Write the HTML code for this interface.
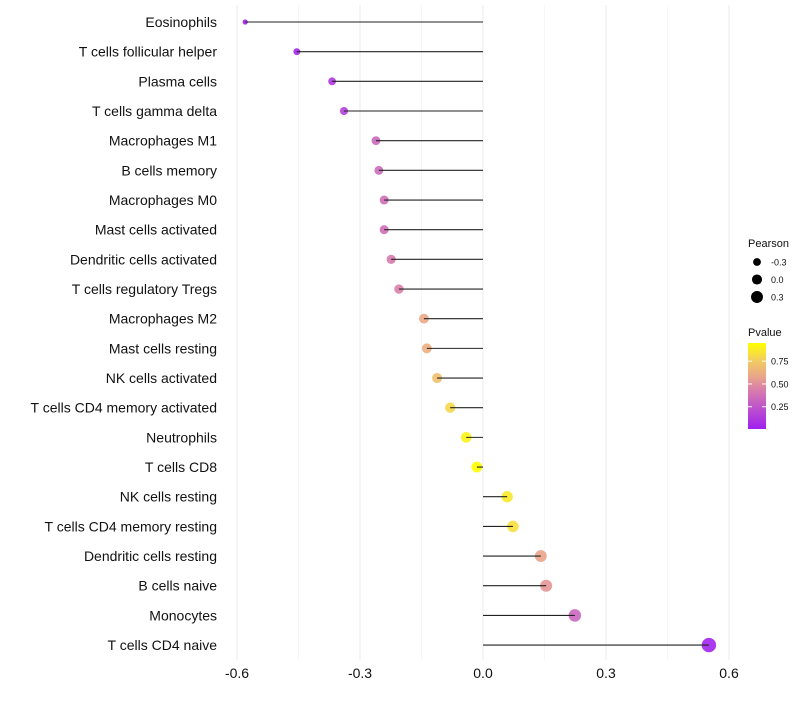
<!DOCTYPE html>
<html><head><meta charset="utf-8"><style>
body{margin:0;background:#fff;}
svg text{font-family:"Liberation Sans",Arial,sans-serif;}
</style></head><body>
<svg id="chart" width="800" height="700" xmlns="http://www.w3.org/2000/svg">
<g id="grid"></g>
<g id="marks"></g>
<g id="ylabels"></g>
<g id="xlabels"></g>
<g id="legend"></g>
</svg>
<script>
const categories=["Eosinophils","T cells follicular helper","Plasma cells","T cells gamma delta","Macrophages M1","B cells memory","Macrophages M0","Mast cells activated","Dendritic cells activated","T cells regulatory  Tregs ","Macrophages M2","Mast cells resting","NK cells activated","T cells CD4 memory activated","Neutrophils","T cells CD8","NK cells resting","T cells CD4 memory resting","Dendritic cells resting","B cells naive","Monocytes","T cells CD4 naive"];
const pearson=[-0.58,-0.454,-0.368,-0.339,-0.261,-0.254,-0.241,-0.241,-0.224,-0.205,-0.144,-0.137,-0.112,-0.080,-0.041,-0.015,0.059,0.073,0.141,0.154,0.224,0.551];
const pvalue=[0.005,0.03,0.12,0.15,0.33,0.35,0.37,0.37,0.42,0.45,0.6,0.62,0.7,0.8,0.9,0.95,0.87,0.83,0.58,0.53,0.33,0.02];
const xTicks=[-0.6,-0.3,0.0,0.3,0.6];
const xTickLabels=["-0.6","-0.3","0.0","0.3","0.6"];
const minorTicks=[-0.45,-0.15,0.15,0.45];
const sizeLegend=[-0.3,0.0,0.3];
const colorTicks=[0.25,0.5,0.75];

const NS="http://www.w3.org/2000/svg";
const X=v=>483+v*410;
const Y=i=>22+i*29.67;
const R=p=>Math.sqrt(Math.max(2.5,30+40*p));
const pMin=0.005,pMax=0.95;
function col(p){
  const t=Math.max(0,Math.min(1,(p-pMin)/(pMax-pMin)));
  const stops=[[0,[160,32,240]],[0.33,[200,100,192]],[0.47,[218,128,168]],[0.62,[234,168,136]],[0.8,[242,205,96]],[1,[255,255,0]]];
  for(let k=1;k<stops.length;k++){if(t<=stops[k][0]){const a=stops[k-1],b=stops[k];const u=(t-a[0])/(b[0]-a[0]);
    return "rgb("+a[1].map((c,j)=>Math.round(c+(b[1][j]-c)*u)).join(",")+")";}}
  return "rgb(255,255,0)";
}
function mk(tag,attrs,parent){const e=document.createElementNS(NS,tag);for(const k in attrs)e.setAttribute(k,attrs[k]);parent.appendChild(e);return e;}
const grid=document.getElementById('grid'),marks=document.getElementById('marks'),yl=document.getElementById('ylabels'),xl=document.getElementById('xlabels'),lg=document.getElementById('legend');
minorTicks.forEach(v=>{const l=mk('line',{x1:X(v),x2:X(v),y1:5,y2:660,stroke:'#f4f4f4','stroke-width':0.8},grid);

});
xTicks.forEach((v,i)=>{const l=mk('line',{x1:X(v),x2:X(v),y1:5,y2:660,stroke:'#ebebeb','stroke-width':1},grid);


const t=mk('text',{x:X(v),y:678,'text-anchor':'middle','font-size':14,fill:'#111'},xl);t.textContent=xTickLabels[i];

});
categories.forEach((c,i)=>{
  const pt=mk('circle',{cx:X(pearson[i]),cy:Y(i),r:R(pearson[i]),fill:col(pvalue[i]),'fill-opacity':0.9},marks);
  
  
  const ln=mk('line',{x1:X(0),x2:X(pearson[i]),y1:Y(i),y2:Y(i),stroke:'#222','stroke-width':1.1},marks);
  
  
  const t=mk('text',{x:217,y:Y(i)+5,'text-anchor':'end','font-size':14,fill:'#111','xml:space':'preserve'},yl);t.textContent=c;
  
  
});
let t=mk('text',{x:748,y:247,'font-size':11,fill:'#111'},lg);t.textContent="Pearson";


sizeLegend.forEach((v,i)=>{const y=262+i*17.5;
  const c=mk('circle',{cx:757,cy:y,r:R(v)*0.92,fill:'#000'},lg);
  
  
  const tt=mk('text',{x:771,y:y+3.5,'font-size':9,fill:'#111'},lg);tt.textContent=(v===0?"0.0":v.toFixed(1));
  
  });
t=mk('text',{x:748,y:336,'font-size':11,fill:'#111'},lg);t.textContent="Pvalue";


const defs=mk('defs',{},lg);const gr=mk('linearGradient',{id:'pg',x1:0,y1:1,x2:0,y2:0},defs);
for(let k=0;k<=10;k++){mk('stop',{offset:k/10,'stop-color':col(pMin+(pMax-pMin)*k/10)},gr);}
const cb=mk('rect',{x:748,y:343,width:18,height:86,fill:'url(#pg)'},lg);


const cy=p=>429-(p-pMin)/(pMax-pMin)*86;
colorTicks.forEach(v=>{mk('line',{x1:748,x2:752,y1:cy(v),y2:cy(v),stroke:'#fff'},lg);mk('line',{x1:762,x2:766,y1:cy(v),y2:cy(v),stroke:'#fff'},lg);
  const tt=mk('text',{x:771,y:cy(v)+3.5,'font-size':9,fill:'#111'},lg);tt.textContent=v.toFixed(2);
  
  });
</script>
</body></html>
